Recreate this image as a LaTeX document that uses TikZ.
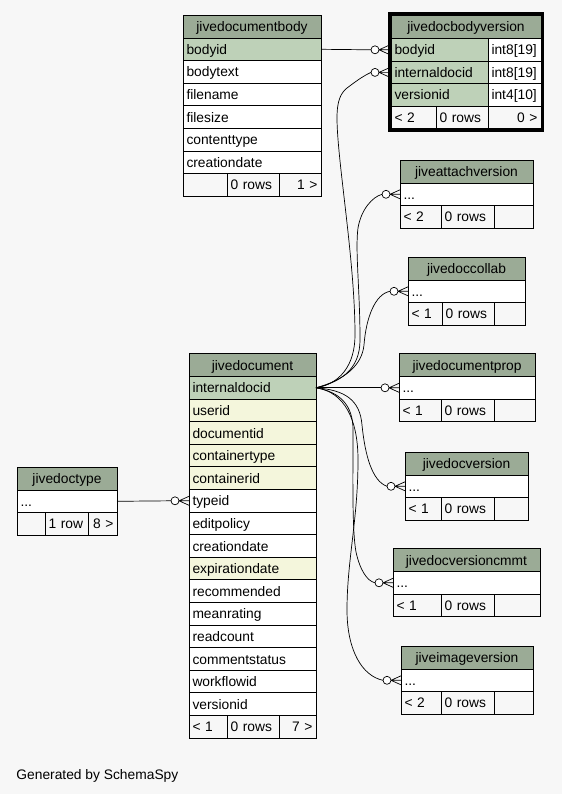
\documentclass[tikz,border=0pt]{standalone}
\usepackage{fontspec}
\setmainfont{Liberation Sans}
\usetikzlibrary{calc}
\definecolor{bgcol}{HTML}{F7F7F7}
\definecolor{headcol}{HTML}{9BAB96}
\definecolor{pkcol}{HTML}{BED1B8}
\definecolor{idxcol}{HTML}{F4F6DC}
\newcommand\tabfont{\fontsize{13.8}{16}\selectfont}
\tikzset{
	cell/.style={draw, anchor=north west, outer sep=0pt, inner xsep=3.5pt, inner ysep=0pt,
		minimum height=22.6pt, text height=11pt, text depth=1pt, text width=#1-7pt,
		align=left, fill=white, font=\tabfont},
	head/.style={cell=#1, fill=headcol, align=center, minimum height=23pt},
	pkey/.style={fill=pkcol},
	idx/.style={fill=idxcol},
	foot/.style={fill=bgcol},
	rel/.style={line width=0.7pt},
}
\def\crowodot(#1){\draw[rel, shift={(#1)}] (-10,0) -- (0,-4.5) (-10,0) -- (0,0) (-10,0) -- (0,4.5);
	\draw[rel, shift={(#1)}, fill=white] (-14,0) circle (4pt);}

\begin{document}
\begin{tikzpicture}[x=1pt, y=-1pt, line width=0.9pt]
		%%%%% START %%%%%
		
		\fill[bgcol] (0,0) rectangle (562,794);
		\useasboundingbox (0,0) rectangle (562,794);
		
		% jivedocumentbody
		\node[head=138pt] (body) at (183,15) {jivedocumentbody};
		\node[cell=138pt, pkey] (body-bodyid) at (body.south west) {bodyid};
		\node[cell=138pt] (body-bodytext) at (body-bodyid.south west) {bodytext};
		\node[cell=138pt] (body-filename) at (body-bodytext.south west) {filename};
		\node[cell=138pt] (body-filesize) at (body-filename.south west) {filesize};
		\node[cell=138pt] (body-contenttype) at (body-filesize.south west) {contenttype};
		\node[cell=138pt] (body-creationdate) at (body-contenttype.south west) {creationdate};
		\node[cell=44pt, foot] (body-f1) at (body-creationdate.south west) {};
		\node[cell=52pt, foot] (body-f2) at (body-f1.north east) {0 rows};
		\node[cell=42pt, foot, align=right] (body-f3) at (body-f2.north east) {1 >};
		
		% jivedocbodyversion
		\node[head=150pt] (bver) at (391,15.5) {jivedocbodyversion};
		\node[cell=97pt, pkey] (bver-bodyid) at (bver.south west) {bodyid};
		\node[cell=53pt] (bver-bodyid-t) at (bver-bodyid.north east) {int8[19]};
		\node[cell=97pt, pkey] (bver-internaldocid) at (bver-bodyid.south west) {internaldocid};
		\node[cell=53pt] (bver-internaldocid-t) at (bver-internaldocid.north east) {int8[19]};
		\node[cell=97pt, pkey] (bver-versionid) at (bver-internaldocid.south west) {versionid};
		\node[cell=53pt] (bver-versionid-t) at (bver-versionid.north east) {int4[10]};
		\node[cell=45pt, foot] (bver-f1) at (bver-versionid.south west) {< 2};
		\node[cell=52pt, foot] (bver-f2) at (bver-f1.north east) {0 rows};
		\node[cell=53pt, foot, align=right] (bver-f3) at (bver-f2.north east) {0 >};
		\draw[line width=3.2pt] ([xshift=-1.6pt,yshift=1.6pt]bver.north west) rectangle ([xshift=1.6pt,yshift=-1.6pt]bver-f3.south east);
		\coordinate (bver-bodyid-port) at ([xshift=-2pt]bver-bodyid.west);
		\coordinate (bver-internaldocid-port) at ([xshift=-2pt]bver-internaldocid.west);
		
		% jiveattachversion
		\node[head=133pt] (attach) at (400,160) {jiveattachversion};
		\node[cell=133pt] (attach-dots) at (attach.south west) {...};
		\node[cell=41pt, foot] (attach-f1) at (attach-dots.south west) {< 2};
		\node[cell=53pt, foot] (attach-f2) at (attach-f1.north east) {0 rows};
		\node[cell=39pt, foot] (attach-f3) at (attach-f2.north east) {};
		
		% jivedoccollab
		\node[head=117pt] (collab) at (408,257) {jivedoccollab};
		\node[cell=117pt] (collab-dots) at (collab.south west) {...};
		\node[cell=34pt, foot] (collab-f1) at (collab-dots.south west) {< 1};
		\node[cell=52pt, foot] (collab-f2) at (collab-f1.north east) {0 rows};
		\node[cell=31pt, foot] (collab-f3) at (collab-f2.north east) {};
		
		% jivedocumentprop
		\node[head=136pt] (prop) at (399,353.5) {jivedocumentprop};
		\node[cell=136pt] (prop-dots) at (prop.south west) {...};
		\node[cell=42pt, foot] (prop-f1) at (prop-dots.south west) {< 1};
		\node[cell=53pt, foot] (prop-f2) at (prop-f1.north east) {0 rows};
		\node[cell=41pt, foot] (prop-f3) at (prop-f2.north east) {};
		
		% jivedocversion
		\node[head=123pt] (version) at (405,452) {jivedocversion};
		\node[cell=123pt] (version-dots) at (version.south west) {...};
		\node[cell=36pt, foot] (version-f1) at (version-dots.south west) {< 1};
		\node[cell=53pt, foot] (version-f2) at (version-f1.north east) {0 rows};
		\node[cell=34pt, foot] (version-f3) at (version-f2.north east) {};
		
		% jivedocversioncmmt
		\node[head=147pt] (cmmt) at (393,548.5) {jivedocversioncmmt};
		\node[cell=147pt] (cmmt-dots) at (cmmt.south west) {...};
		\node[cell=48pt, foot] (cmmt-f1) at (cmmt-dots.south west) {< 1};
		\node[cell=53pt, foot] (cmmt-f2) at (cmmt-f1.north east) {0 rows};
		\node[cell=46pt, foot] (cmmt-f3) at (cmmt-f2.north east) {};
		
		% jiveimageversion
		\node[head=132pt] (image) at (401,646) {jiveimageversion};
		\node[cell=132pt] (image-dots) at (image.south west) {...};
		\node[cell=40pt, foot] (image-f1) at (image-dots.south west) {< 2};
		\node[cell=53pt, foot] (image-f2) at (image-f1.north east) {0 rows};
		\node[cell=39pt, foot] (image-f3) at (image-f2.north east) {};
		
		% jivedoctype
		\node[head=100pt] (dtype) at (17,467) {jivedoctype};
		\node[cell=100pt] (dtype-dots) at (dtype.south west) {...};
		\node[cell=28pt, foot] (dtype-f1) at (dtype-dots.south west) {};
		\node[cell=43pt, foot] (dtype-f2) at (dtype-f1.north east) {1 row};
		\node[cell=29pt, foot, align=right] (dtype-f3) at (dtype-f2.north east) {8 >};
		
		% jivedocument
		\node[head=127pt] (doc) at (189,353.5) {jivedocument};
		\node[cell=127pt, pkey] (doc-internaldocid) at (doc.south west) {internaldocid};
		\node[cell=127pt, idx] (doc-userid) at (doc-internaldocid.south west) {userid};
		\node[cell=127pt, idx] (doc-documentid) at (doc-userid.south west) {documentid};
		\node[cell=127pt, idx] (doc-containertype) at (doc-documentid.south west) {containertype};
		\node[cell=127pt, idx] (doc-containerid) at (doc-containertype.south west) {containerid};
		\node[cell=127pt] (doc-typeid) at (doc-containerid.south west) {typeid};
		\node[cell=127pt] (doc-editpolicy) at (doc-typeid.south west) {editpolicy};
		\node[cell=127pt] (doc-creationdate) at (doc-editpolicy.south west) {creationdate};
		\node[cell=127pt, idx] (doc-expirationdate) at (doc-creationdate.south west) {expirationdate};
		\node[cell=127pt] (doc-recommended) at (doc-expirationdate.south west) {recommended};
		\node[cell=127pt] (doc-meanrating) at (doc-recommended.south west) {meanrating};
		\node[cell=127pt] (doc-readcount) at (doc-meanrating.south west) {readcount};
		\node[cell=127pt] (doc-commentstatus) at (doc-readcount.south west) {commentstatus};
		\node[cell=127pt] (doc-workflowid) at (doc-commentstatus.south west) {workflowid};
		\node[cell=127pt] (doc-versionid) at (doc-workflowid.south west) {versionid};
		\node[cell=38pt, foot] (doc-f1) at (doc-versionid.south west) {< 1};
		\node[cell=52pt, foot] (doc-f2) at (doc-f1.north east) {0 rows};
		\node[cell=37pt, foot, align=right] (doc-f3) at (doc-f2.north east) {7 >};
		
		% relationships
		\draw[rel] (body-bodyid.east) -- ([xshift=-18pt]bver-bodyid-port);
		\crowodot(bver-bodyid-port)
		
		\draw[rel] (doc-internaldocid.east) .. controls (340,384) and (355,365) .. (355,335)
			.. controls (355,260) and (337,160) .. (337,118)
			.. controls (337,100) and (341,93) .. (347,88)
			.. controls (355,82) and (363,76) .. ([xshift=-18pt]bver-internaldocid-port);
		\crowodot(bver-internaldocid-port)
		
		\draw[rel] (doc-internaldocid.east) .. controls (340,382) and (360,370) .. (360,340)
			.. controls (360,290) and (355,250) .. (358,228)
			.. controls (361,210) and (372,197) .. ([xshift=-18pt]attach-dots.west);
		\crowodot(attach-dots.west)
		
		\draw[rel] (doc-internaldocid.east) .. controls (345,380) and (362,365) .. (364,345)
			.. controls (366,318) and (375,294) .. ([xshift=-18pt]collab-dots.west);
		\crowodot(collab-dots.west)
		
		\draw[rel] (doc-internaldocid.east) -- ([xshift=-18pt]prop-dots.west);
		\crowodot(prop-dots.west)
		
		\draw[rel] (doc-internaldocid.east) .. controls (345,390) and (360,400) .. (362,425)
			.. controls (365,455) and (372,481) .. ([xshift=-18pt]version-dots.west);
		\crowodot(version-dots.west)
		
		\draw[rel] (doc-internaldocid.east) .. controls (340,392) and (353,405) .. (353,430)
			.. controls (353,480) and (352,530) .. (356,552)
			.. controls (360,570) and (367,581) .. ([xshift=-18pt]cmmt-dots.west);
		\crowodot(cmmt-dots.west)
		
		\draw[rel] (doc-internaldocid.east) .. controls (345,392) and (358,420) .. (358,460)
			.. controls (358,520) and (347,560) .. (347,610)
			.. controls (347,650) and (362,676) .. ([xshift=-18pt]image-dots.west);
		\crowodot(image-dots.west)
		
		\draw[rel] (dtype-dots.east) -- ([xshift=-18pt]doc-typeid.west);
		\crowodot(doc-typeid.west)
		
		\node[anchor=west, font=\tabfont, inner sep=0pt] (credit) at (16,776) {Generated by SchemaSpy};
		
		%%%%% END %%%%%
	\end{tikzpicture}
\end{document}
